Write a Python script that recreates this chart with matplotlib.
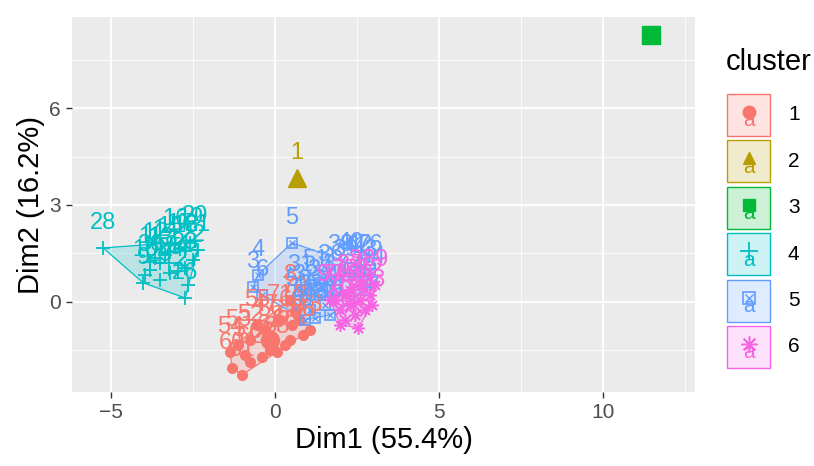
import matplotlib
matplotlib.use("Agg")
import matplotlib.pyplot as plt
import numpy as np
from matplotlib.patches import Polygon, Rectangle

plt.rcParams["font.family"] = ["Liberation Sans", "DejaVu Sans"]

# ---- data (Dim1 / Dim2 coordinates) ----
c1_x = [-1.31, -1.01, -0.76, -0.40, -0.15, 0.06, 0.30, 0.46, 0.85, 0.52, 0.61,
        0.46, 0.15, -0.30, -0.76, -1.13, -1.37, 0.76, 1.07, -0.55, -0.15, -0.91]
c1_y = [-2.04, -2.26, -1.86, -1.70, -1.49, -1.55, -1.33, -1.18, -1.02, -0.71, -0.31,
        0.06, -0.56, -0.87, -1.18, -1.33, -1.55, -0.56, -0.87, -0.71, -1.02, -1.64]
c1_lab = ["60", "61", "62", "63", "64", "65", "66", "67", "68", "69", "70",
          "8", "71", "47", "52", "53", "54", "72", "73", "55", "56", "57"]

c2_x = [0.67]
c2_y = [3.84]
c2_lab = ["1"]

c3_x = [11.46]
c3_y = [8.27]
c3_lab = ["2"]

c4_x = [-5.24, -4.02, -3.96, -3.81, -3.66, -3.51, -3.35, -3.20, -3.05, -2.90, -2.74,
        -2.59, -2.44, -2.35, -2.50, -2.74, -2.96, -3.20, -2.74, -2.65, -3.51, -3.81]
c4_y = [1.67, 0.59, 0.84, 1.24, 1.35, 1.20, 1.45, 1.55, 1.80, 1.65, 1.58,
        1.82, 1.88, 1.62, 1.30, 1.05, 0.95, 0.90, 0.12, 0.53, 0.68, 0.99]
c4_lab = ["28", "9", "10", "11", "12", "13", "14", "15", "16", "17", "18",
          "19", "20", "21", "22", "23", "24", "25", "26", "27", "29", "30"]

c5_x = [0.52, -0.52, -0.67, -0.40, 0.76, 0.91, 1.07, 1.22, 1.37, 1.52, 1.68, 1.83,
        1.98, 2.13, 2.29, 2.44, 2.59, 2.74, 2.90, 2.96, 2.74, 0.91, 1.22, 1.68, 0.70]
c5_y = [1.83, 0.84, 0.46, 0.22, 0.37, 0.06, -0.25, 0.53, 0.22, -0.09, 0.68, 0.37,
        0.99, 0.84, 1.05, 0.93, 0.99, 0.84, 0.99, 0.62, 0.37, -0.56, -0.50, -0.40, -0.09]
c5_lab = ["5", "4", "3", "6", "31", "32", "33", "51", "34", "35", "36", "37",
          "38", "39", "40", "41", "42", "43", "76", "44", "45", "46", "48", "49", "50"]

c6_x = [1.83, 1.98, 2.13, 2.29, 2.44, 2.59, 2.74, 2.90, 2.96, 2.13, 2.53, 1.98,
        2.29, 2.65, 3.05, 1.68]
c6_y = [0.06, -0.25, 0.22, -0.09, -0.40, 0.06, -0.25, 0.22, -0.09, -0.56, -0.80,
        -0.71, 0.37, 0.53, 0.53, 0.06]
c6_lab = ["74", "75", "77", "78", "79", "80", "81", "82", "83", "84", "85", "86",
          "87", "88", "89", "90"]

clusters = ["1", "2", "3", "4", "5", "6"]
colors = ["#F8766D", "#B79F00", "#00BA38", "#00BFC4", "#619CFF", "#F564E3"]
xs = [c1_x, c2_x, c3_x, c4_x, c5_x, c6_x]
ys = [c1_y, c2_y, c3_y, c4_y, c5_y, c6_y]
labs = [c1_lab, c2_lab, c3_lab, c4_lab, c5_lab, c6_lab]

x_ticks = [-5, 0, 5, 10]
y_ticks = [0, 3, 6]


def hull(pts):
    pts = sorted(set(pts))
    if len(pts) < 3:
        return pts

    def cross(o, a, b):
        return (a[0] - o[0]) * (b[1] - o[1]) - (a[1] - o[1]) * (b[0] - o[0])

    lower, upper = [], []
    for p in pts:
        while len(lower) >= 2 and cross(lower[-2], lower[-1], p) <= 0:
            lower.pop()
        lower.append(p)
    for p in reversed(pts):
        while len(upper) >= 2 and cross(upper[-2], upper[-1], p) <= 0:
            upper.pop()
        upper.append(p)
    return lower[:-1] + upper[:-1]


def draw_marker(ax, x, y, k, ms, color, z=3):
    if k == 0:
        ax.plot(x, y, "o", ms=ms, color=color, mec=color, ls="none", zorder=z)
    elif k == 1:
        ax.plot(x, y, "^", ms=ms, color=color, mec=color, ls="none", zorder=z)
    elif k == 2:
        ax.plot(x, y, "s", ms=ms, color=color, mec=color, ls="none", zorder=z)
    elif k == 3:
        ax.plot(x, y, "+", ms=ms * 1.4, color=color, mew=1.3, ls="none", zorder=z)
    elif k == 4:
        ax.plot(x, y, "s", ms=ms, mfc="none", mec=color, mew=1.2, ls="none", zorder=z)
        ax.plot(x, y, "x", ms=ms * 0.7, color=color, mew=1.0, ls="none", zorder=z)
    else:
        ax.plot(x, y, marker=(8, 2, 0), ms=ms * 1.3, color=color, mew=1.1,
                ls="none", zorder=z)


W, H = 814, 466
fig = plt.figure(figsize=(W / 100, H / 100), dpi=100)
ax = fig.add_axes([72 / W, 1 - 392 / H, 623 / W, 375 / H])
ax.set_facecolor("#EBEBEB")
ax.set_xlim(-6.19, 12.8)
ax.set_ylim(-2.79, 8.82)

ax.set_xticks(x_ticks)
ax.set_yticks(y_ticks)
ax.set_xticks([-2.5, 2.5, 7.5, 12.5], minor=True)
ax.set_yticks([-1.5, 1.5, 4.5, 7.5], minor=True)
ax.grid(which="major", color="white", lw=1.3)
ax.grid(which="minor", color="white", lw=0.6)
ax.set_axisbelow(True)
for s in ax.spines.values():
    s.set_visible(False)
ax.tick_params(which="major", length=4, width=1, color="#333333",
               labelcolor="#4D4D4D", labelsize=15, pad=4)
ax.tick_params(which="minor", length=0)
ax.set_xlabel("Dim1 (55.4%)", fontsize=21, labelpad=3)
ax.set_ylabel("Dim2 (16.2%)", fontsize=21, labelpad=3)

for k in range(6):
    x = np.array(xs[k])
    y = np.array(ys[k])
    col = colors[k]
    h = hull(list(zip(x, y)))
    if len(h) >= 3:
        ax.add_patch(Polygon(h, closed=True, fc=col, alpha=0.2, ec="none", zorder=2))
        ax.add_patch(Polygon(h, closed=True, fc="none", ec=col, lw=0.9, zorder=2))
    draw_marker(ax, x, y, k, 7, col)
    # cluster centre, drawn bigger
    draw_marker(ax, [x.mean()], [y.mean()], k, 13, col, z=4)
    for xi, yi, t in zip(x, y, labs[k]):
        ax.annotate(t, (xi, yi), xytext=(0, 18), textcoords="offset points",
                    ha="center", va="center", color=col, fontsize=17,
                    zorder=5, annotation_clip=False, clip_on=True)

# ---- legend ----
lg = fig.add_axes([0, 0, 1, 1], facecolor="none")
lg.set_xlim(0, W)
lg.set_ylim(H, 0)
lg.axis("off")
lg.text(726, 62, "cluster", fontsize=21, va="center", ha="left", color="black")
for k, name in enumerate(clusters):
    cy = 115 + 46.4 * k
    col = colors[k]
    lg.add_patch(Rectangle((727, cy - 21), 43, 42, fc=col, alpha=0.2, ec="none"))
    lg.add_patch(Rectangle((727, cy - 21), 43, 42, fc="none", ec=col, lw=1.0))
    lg.text(748.5, cy + 6, "a", fontsize=15, color=col, ha="center", va="center")
    draw_marker(lg, [748.5], [cy - 3], k, 9, col)
    lg.text(788, cy, name, fontsize=15, color="black", va="center", ha="left")

fig.savefig("out.png", dpi=100)
